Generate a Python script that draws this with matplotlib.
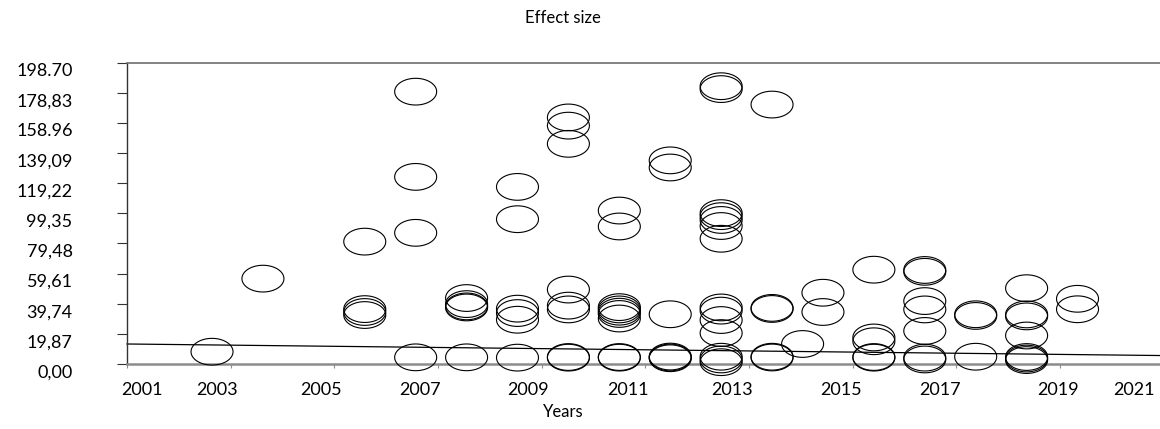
import numpy as np
import matplotlib
matplotlib.use('Agg')
import matplotlib.pyplot as plt
from matplotlib.path import Path
import matplotlib.transforms as mtransforms

plt.rcParams['font.family'] = ['Lato', 'DejaVu Sans']

# ---- data ----
study_year = (
    [2003] + [2004] + [2006] * 4 + [2007] * 4 + [2008] * 5 + [2009] * 6 +
    [2010] * 8 + [2011] * 9 + [2012] * 6 + [2013] * 14 + [2014] * 5 +
    [2014.6] + [2015] * 2 + [2016] * 5 + [2017] * 7 + [2018] * 3 +
    [2019] * 7 + [2020] * 2
)
effect_size = (
    [8.1] +
    [56.3] +
    [80.7, 36.2, 34.3, 32.3] +
    [179.6, 123.4, 86.5, 4.4] +
    [43.5, 39.5, 38.0, 37.3, 4.4] +
    [116.8, 95.5, 36.5, 33.6, 29.2, 4.2] +
    [162.6, 157.2, 145.2, 49.1, 38.5, 36.0, 4.6, 4.2] +
    [101.2, 90.7, 37.5, 36.0, 34.5, 33.0, 30.0, 4.6, 4.2] +
    [134.3, 129.6, 32.8, 4.9, 4.3, 3.8] +
    [183.2, 181.3, 99.5, 97.5, 95.0, 91.0, 82.6, 37.3, 35.2, 29.0, 20.4, 4.8, 3.0, 1.2] +
    [171.1, 37.0, 36.3, 4.8, 4.3] +
    [13.2] +
    [47.0, 34.3] +
    [62.2, 17.5, 15.0, 4.6, 4.2] +
    [62.0, 60.8, 41.5, 36.0, 21.8, 4.2, 3.0] +
    [32.8, 31.7, 4.8] +
    [50.0, 32.7, 31.4, 18.8, 4.6, 3.6, 2.6] +
    [43.0, 36.1]
)

y_ticks = [0.00, 19.87, 39.74, 59.61, 79.48, 99.35, 119.22, 139.09, 158.96, 178.83, 198.70]
y_tick_labels = ["0,00", "19,87", "39,74", "59,61", "79,48", "99,35",
                 "119,22", "139,09", "158.96", "178,83", "198.70"]
x_tick_labels = ["2001", "2003", "2005", "2007", "2009", "2011",
                 "2013", "2015", "2017", "2019", "2021"]

# regression line (effect size vs year)
reg_value_2001 = 13.32
reg_slope = -0.375

# ---- layout ----
x_label_pos = [2001.625, 2003.10, 2005.14, 2007.09, 2009.21, 2011.17,
               2013.21, 2015.35, 2017.30, 2019.61, 2021.11]
x_min, x_max = 2001.33, 2021.62
tick_step = 2.036

fig = plt.figure(figsize=(11.6, 4.29), dpi=100)
ax = fig.add_axes([127 / 1160, 65 / 429, 1033 / 1160, 301.3 / 429])
ax.set_xlim(x_min, x_max)
ax.set_ylim(0, 198.7)

theta = np.linspace(0, 2 * np.pi, 121)
ellipse = Path(np.column_stack([np.cos(theta), 0.636 * np.sin(theta)]), closed=True)

ax.scatter(study_year, effect_size, s=914, marker=ellipse, facecolors='none',
           edgecolors='black', linewidths=0.8, clip_on=False, zorder=3)

xs = np.array([x_min, x_max])
ax.plot(xs, reg_value_2001 + reg_slope * (xs - 2001), color='black', lw=0.9,
        clip_on=False, zorder=2)

ax.spines['right'].set_visible(False)
ax.spines['top'].set_color('#6e6e6e')
ax.spines['top'].set_linewidth(1.2)
ax.spines['bottom'].set_color('#8c8c8c')
ax.spines['bottom'].set_linewidth(1.8)
ax.spines['left'].set_color('#333333')
ax.spines['left'].set_linewidth(1.0)

ax.set_yticks(y_ticks, y_tick_labels)
ax.tick_params(axis='y', length=7.2, width=0.8, pad=32, labelsize=13, colors='#333333',
               labelcolor='black')
offset = mtransforms.ScaledTranslation(0, -7 / 100, fig.dpi_scale_trans)
for lab in ax.get_yticklabels():
    lab.set_transform(lab.get_transform() + offset)

major_x = [x_min + tick_step * k for k in range(10)]
ax.set_xticks(major_x, [''] * len(major_x))
ax.tick_params(axis='x', which='major', length=3, width=0.8, colors='#8c8c8c')
ax.set_xticks(x_label_pos, x_tick_labels, minor=True)
ax.tick_params(axis='x', which='minor', length=0, pad=13, labelsize=13, labelcolor='black')

fig.text(563 / 1160, 1 - 18 / 429, 'Effect size', ha='center', va='center', fontsize=12)
fig.text(563 / 1160, 1 - 412 / 429, 'Years', ha='center', va='center', fontsize=12)

fig.savefig('out.png', dpi=100)
